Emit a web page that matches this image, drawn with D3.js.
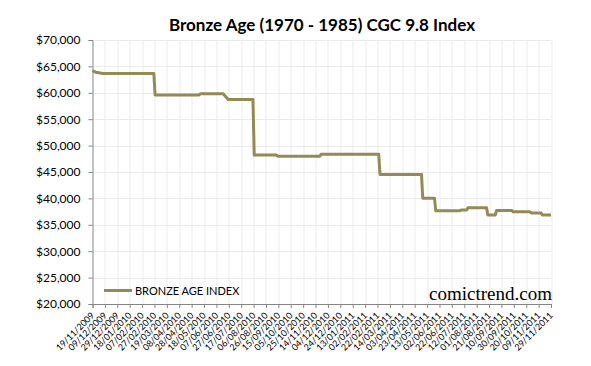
<!DOCTYPE html>
<html>
<head>
<meta charset="utf-8">
<script src="https://cdn.jsdelivr.net/npm/d3@7"></script>
<style>
  body { margin: 0; background: #fff; }
  svg { display: block; }
</style>
</head>
<body>
<svg id="chart" width="591" height="366"></svg>
<script>
// step points of the index (dd/mm/yyyy)
var dates = [
  '19/11/2009', '24/11/2009', '06/12/2009', '26/02/2010', '28/02/2010',
  '10/05/2010', '12/05/2010', '18/06/2010', '20/06/2010', '26/06/2010',
  '05/08/2010', '07/08/2010', '12/09/2010', '14/09/2010', '21/11/2010',
  '23/11/2010', '24/02/2011', '26/02/2011', '04/05/2011', '06/05/2011',
  '25/05/2011', '27/05/2011', '05/07/2011', '07/07/2011', '16/07/2011',
  '18/07/2011', '17/08/2011', '19/08/2011', '31/08/2011', '02/09/2011',
  '27/09/2011', '29/09/2011', '26/10/2011', '28/10/2011', '13/11/2011',
  '15/11/2011', '29/11/2011'
];
var values = [
  64200, 63900, 63650, 63650, 59600,
  59600, 59800, 59800, 59550, 58750,
  58750, 48200, 48200, 47980, 47980,
  48350, 48350, 44550, 44550, 40050,
  40050, 37650, 37650, 37800, 37800,
  38250, 38250, 36850, 36850, 37700,
  37700, 37450, 37450, 37250, 37250,
  36850, 36850
];
var tickLabels = [
  '19/11/2009', '09/12/2009', '29/12/2009', '18/01/2010', '07/02/2010',
  '27/02/2010', '19/03/2010', '08/04/2010', '28/04/2010', '18/05/2010',
  '07/06/2010', '27/06/2010', '17/07/2010', '06/08/2010', '26/08/2010',
  '15/09/2010', '05/10/2010', '25/10/2010', '14/11/2010', '04/12/2010',
  '24/12/2010', '13/01/2011', '02/02/2011', '22/02/2011', '14/03/2011',
  '03/04/2011', '23/04/2011', '13/05/2011', '02/06/2011', '22/06/2011',
  '12/07/2011', '01/08/2011', '21/08/2011', '10/09/2011', '30/09/2011',
  '20/10/2011', '09/11/2011', '29/11/2011'
];
var yTicks = [20000, 25000, 30000, 35000, 40000, 45000, 50000, 55000, 60000, 65000, 70000];

var parse = d3.timeParse('%d/%m/%Y'),
    fmt = d3.timeFormat('%d/%m/%Y'),
    money = d3.format('$,');

var margin = {top: 40, right: 40, bottom: 62, left: 92.5},
    width = 551 - margin.left,
    height = 304 - margin.top;

var svg = d3.select('#chart');
var g = svg.append('g')
    .attr('transform', 'translate(' + margin.left + ',' + margin.top + ')');

var tickDates = tickLabels.map(parse);

var x = d3.scaleTime()
    .domain([tickDates[0], tickDates[tickDates.length - 1]])
    .range([0, width]);

var y = d3.scaleLinear()
    .domain([20000, 70000])
    .range([height, 0]);

// grid
g.append('g').selectAll('line.h')
    .data(yTicks)
  .enter().append('line')
    .attr('x1', 0).attr('x2', width)
    .attr('y1', function(d) { return Math.round(y(d)) + 0.5; })
    .attr('y2', function(d) { return Math.round(y(d)) + 0.5; })
    .style('stroke', '#ebebeb');

g.append('g').selectAll('line.v')
    .data(tickDates.slice(1))
  .enter().append('line')
    .attr('x1', function(d) { return Math.round(x(d)) + 0.5; })
    .attr('x2', function(d) { return Math.round(x(d)) + 0.5; })
    .attr('y1', 0).attr('y2', height)
    .style('stroke', '#ebebeb');

// axes
var yAxis = g.append('g')
    .call(d3.axisLeft(y).tickValues(yTicks).tickSize(4).tickPadding(8).tickFormat(money));

var xAxis = g.append('g')
    .attr('transform', 'translate(0,' + height + ')')
    .call(d3.axisBottom(x).tickValues(tickDates).tickSize(4).tickFormat(fmt));

[yAxis, xAxis].forEach(function(a) {
  a.select('.domain').style('stroke', '#868686');
  a.selectAll('.tick line').style('stroke', '#868686');
});

yAxis.selectAll('text')
    .style('font-family', 'Lato, "Open Sans", sans-serif')
    .style('font-size', '12px')
    .style('fill', '#000');

xAxis.selectAll('text')
    .style('font-family', 'Lato, "Open Sans", sans-serif')
    .style('font-size', '9px')
    .style('fill', '#000')
    .style('text-anchor', 'end')
    .attr('x', 0).attr('y', 0).attr('dy', 0)
    .attr('transform', 'translate(2,12) rotate(-45)');

// series
var data = dates.map(function(d, i) { return {date: parse(d), value: values[i]}; });

var line = d3.line()
    .x(function(d) { return x(d.date); })
    .y(function(d) { return y(d.value); });

g.append('path')
    .datum(data)
    .attr('d', line)
    .style('fill', 'none')
    .style('stroke', '#948a54')
    .style('stroke-width', '3px')
    .style('stroke-linejoin', 'round');

// legend
svg.append('line')
    .attr('x1', 104).attr('x2', 132)
    .attr('y1', 290.5).attr('y2', 290.5)
    .style('stroke', '#948a54')
    .style('stroke-width', '3px');

svg.append('text')
    .attr('x', 135).attr('y', 295)
    .style('font-family', 'Lato, "Open Sans", sans-serif')
    .style('font-size', '11px')
    .text('BRONZE AGE INDEX');

// watermark
svg.append('text')
    .attr('x', 552).attr('y', 300)
    .attr('text-anchor', 'end')
    .style('font-family', '"Liberation Serif", "DejaVu Serif", serif')
    .style('font-size', '19px')
    .text('comictrend.com');

// title
svg.append('text')
    .attr('x', 322).attr('y', 31)
    .attr('text-anchor', 'middle')
    .style('font-family', 'Lato, "Open Sans", sans-serif')
    .style('font-weight', 'bold')
    .style('font-size', '17px')
    .text('Bronze Age (1970 - 1985) CGC 9.8 Index');
</script>
</body>
</html>
